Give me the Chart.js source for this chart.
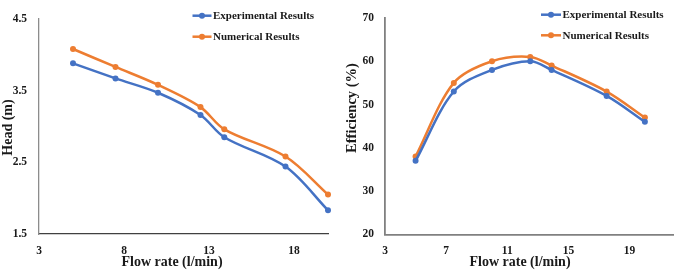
<!DOCTYPE html>
<html>
<head>
<meta charset="utf-8">
<script src="https://cdn.jsdelivr.net/npm/chart.js@4.4.1/dist/chart.umd.min.js"></script>
<style>
  body { margin: 0; background: #fff; }
  #wrap { position: relative; width: 677px; height: 271px; }
  #headBox { position: absolute; left: 0; top: 0; width: 338px; height: 271px; }
  #effBox { position: absolute; left: 338px; top: 0; width: 339px; height: 271px; }
</style>
</head>
<body>
<div id="wrap">
  <div id="headBox"><canvas id="headChart"></canvas></div>
  <div id="effBox"><canvas id="effChart"></canvas></div>
</div>
<script>
// flow rates (l/min), shared by both charts
var flowRate = [5, 7.5, 10, 12.5, 13.9, 17.5, 20];

// Head (m)
var headExp = [3.88, 3.67, 3.47, 3.16, 2.85, 2.44, 1.83];
var headNum = [4.08, 3.83, 3.58, 3.27, 2.96, 2.58, 2.05];

// Efficiency (%)
var effExp = [37, 53, 58, 60, 58, 52, 46];
var effNum = [38, 55, 60, 61, 59, 53, 47];

var seriesNames = ["Experimental Results", "Numerical Results"];

// tick labels
var headXTicks = [3, 8, 13, 18];
var headYTicks = [1.5, 2.5, 3.5, 4.5];
var effXTicks = [3, 7, 11, 15, 19];
var effYTicks = [20, 30, 40, 50, 60, 70];

var BLUE = "#4472C4";
var ORANGE = "#ED7D31";
var SERIF = "'Liberation Serif', 'Times New Roman', serif";

function pts(xs, ys) {
  return xs.map(function (x, i) { return { x: x, y: ys[i] }; });
}

function lineSet(label, data, color) {
  return {
    label: label,
    data: data,
    borderColor: color,
    backgroundColor: color,
    borderWidth: 2.5,
    pointRadius: 3,
    pointBorderWidth: 0,
    pointBackgroundColor: color,
    tension: 0.33,
    clip: false
  };
}

function fixedTicks(list) {
  return function (scale) {
    scale.ticks = list.map(function (v) { return { value: v }; });
  };
}

// draws legend + axis titles inside the canvas
function decorPlugin(cfg) {
  return {
    id: "decor",
    afterDraw: function (chart) {
      var ctx = chart.ctx;
      ctx.save();
      // legend
      chart.data.datasets.forEach(function (ds, i) {
        var y = cfg.legendY + i * cfg.legendGap;
        ctx.strokeStyle = ds.borderColor;
        ctx.lineWidth = 2.5;
        ctx.beginPath();
        ctx.moveTo(cfg.legendX1, y);
        ctx.lineTo(cfg.legendX2, y);
        ctx.stroke();
        ctx.fillStyle = ds.borderColor;
        ctx.beginPath();
        ctx.arc((cfg.legendX1 + cfg.legendX2) / 2, y, 3, 0, Math.PI * 2);
        ctx.fill();
        ctx.fillStyle = "#1a1a1a";
        ctx.font = "bold 11px " + SERIF;
        ctx.textAlign = "left";
        ctx.textBaseline = "middle";
        ctx.fillText(ds.label, cfg.legendX2 + 1.5, y + 0.5);
      });
      // axis titles
      ctx.fillStyle = "#1a1a1a";
      ctx.font = "bold 14px " + SERIF;
      ctx.textAlign = "center";
      ctx.textBaseline = "middle";
      ctx.fillText(cfg.xTitle, cfg.xTitleX, cfg.xTitleY);
      ctx.translate(cfg.yTitleX, cfg.yTitleY);
      ctx.rotate(-Math.PI / 2);
      ctx.font = "bold " + cfg.yTitleSize + "px " + SERIF;
      ctx.fillText(cfg.yTitle, 0, 0);
      ctx.restore();
    }
  };
}

function makeChart(id, exp, num, o) {
  return new Chart(document.getElementById(id), {
    type: "line",
    data: {
      datasets: [
        lineSet(seriesNames[0], pts(flowRate, exp), BLUE),
        lineSet(seriesNames[1], pts(flowRate, num), ORANGE)
      ]
    },
    plugins: [decorPlugin(o.decor)],
    options: {
      responsive: true,
      maintainAspectRatio: false,
      animation: false,
      layout: { padding: { top: o.padTop, right: o.padRight, left: 0, bottom: 0 } },
      plugins: { legend: { display: false }, tooltip: { enabled: false } },
      scales: {
        x: {
          type: "linear",
          min: o.xMin, max: o.xMax,
          afterBuildTicks: fixedTicks(o.xTicks),
          afterFit: function (s) { s.height = o.xAxisH; },
          grid: { display: false, drawTicks: false },
          border: { color: o.xBorder, width: o.borderW },
          ticks: { padding: 10, color: "#1a1a1a", font: { family: SERIF, size: 11.5, weight: "bold" } }
        },
        y: {
          min: o.yMin, max: o.yMax,
          afterBuildTicks: fixedTicks(o.yTicks),
          afterFit: function (s) { s.width = o.yAxisW; },
          grid: { display: false, drawTicks: false },
          border: { color: o.yBorder, width: o.borderW },
          ticks: {
            padding: o.yTickPad, color: "#1a1a1a",
            font: { family: SERIF, size: 11.5, weight: "bold" },
            callback: function (v) { return o.yFmt(v); }
          }
        }
      }
    }
  });
}

makeChart("headChart", headExp, headNum, {
  xMin: 3, xMax: 20, xTicks: headXTicks,
  yMin: 1.5, yMax: 4.5, yTicks: headYTicks,
  yFmt: function (v) { return v.toFixed(1); },
  padTop: 6, padRight: 10, xAxisH: 37, yAxisW: 39, yTickPad: 12,
  xBorder: "#404040", yBorder: "#8c8c8c", borderW: 1.3,
  decor: {
    legendX1: 192.5, legendX2: 211.5, legendY: 15.7, legendGap: 21,
    xTitle: "Flow rate (l/min)", xTitleX: 172, xTitleY: 262,
    yTitle: "Head (m)", yTitleX: 8, yTitleY: 127.5, yTitleSize: 14
  }
});

makeChart("effChart", effExp, effNum, {
  xMin: 3, xMax: 21.84, xTicks: effXTicks,
  yMin: 20, yMax: 70, yTicks: effYTicks,
  yFmt: function (v) { return String(v); },
  padTop: 5, padRight: 1, xAxisH: 36.5, yAxisW: 47, yTickPad: 11,
  xBorder: "#808080", yBorder: "#808080", borderW: 1.8,
  decor: {
    legendX1: 203, legendX2: 223, legendY: 14.7, legendGap: 20.6,
    xTitle: "Flow rate (l/min)", xTitleX: 182, xTitleY: 262.5,
    yTitle: "Efficiency (%)", yTitleX: 14, yTitleY: 108, yTitleSize: 14.5
  }
});
</script>
</body>
</html>
